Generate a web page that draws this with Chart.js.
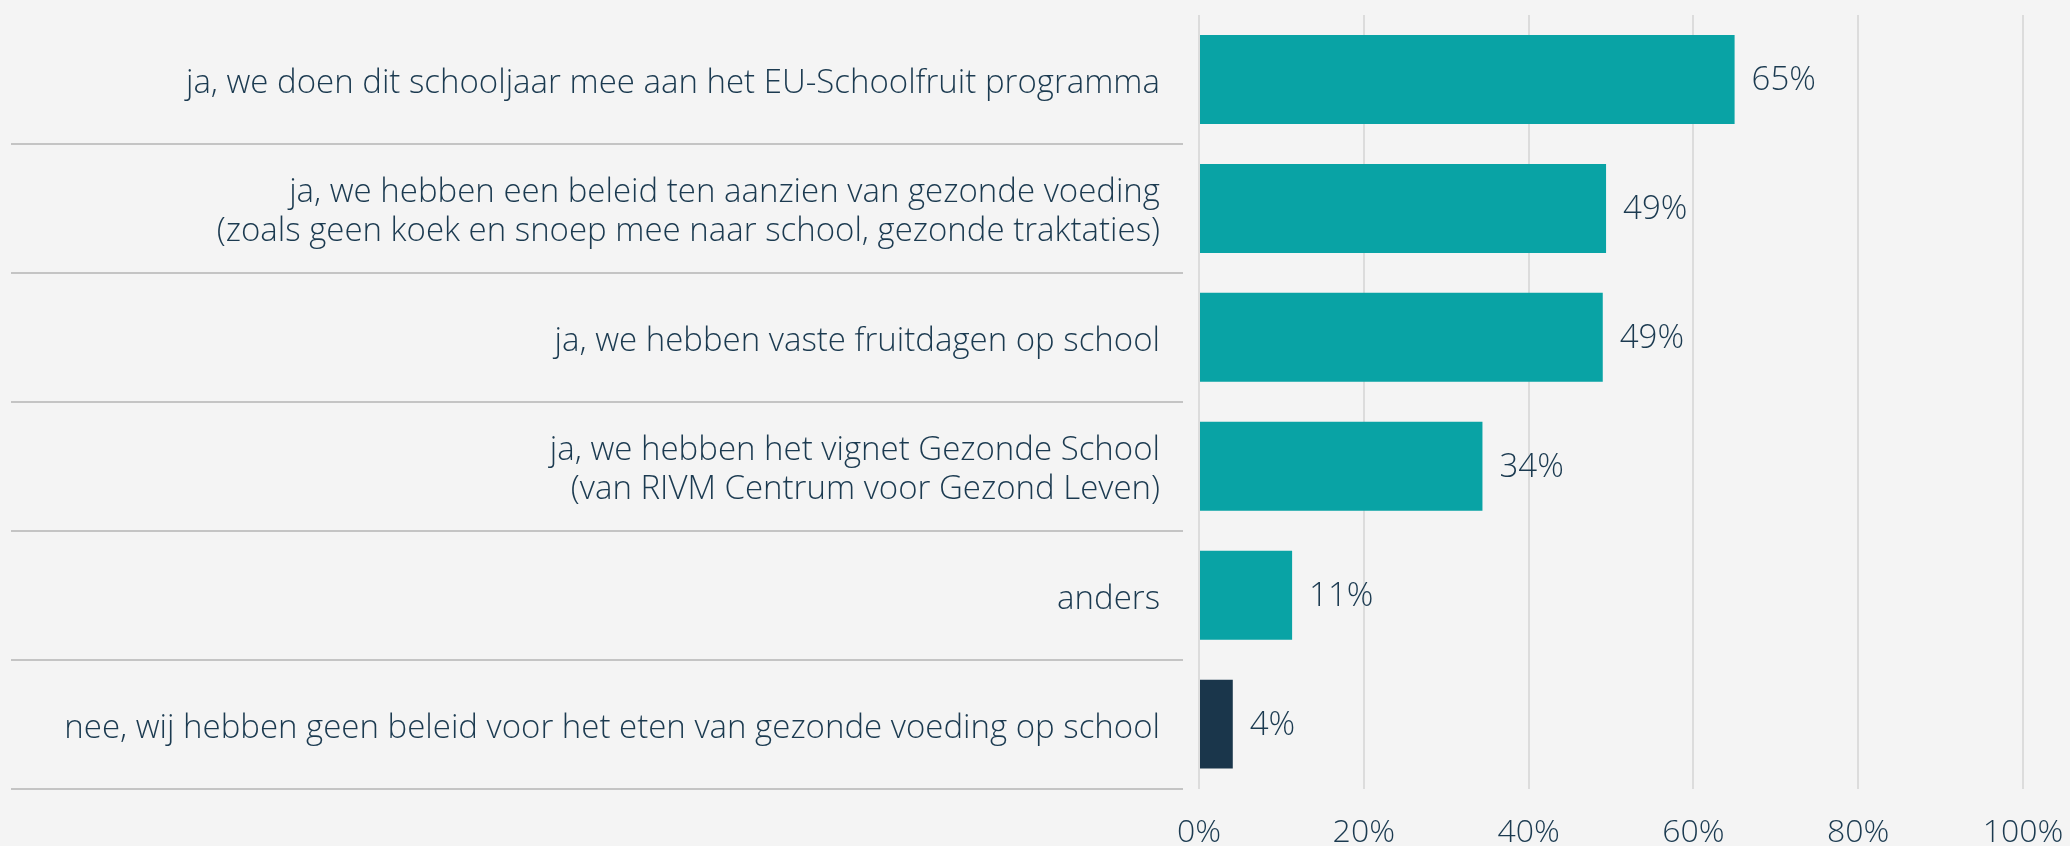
<!DOCTYPE html>
<html>
<head>
<meta charset="utf-8">
<script src="https://cdn.jsdelivr.net/npm/chart.js@4"></script>
<style>
  html, body { margin: 0; padding: 0; background: #f4f4f4; }
  #wrap { width: 2070px; height: 846px; }
</style>
</head>
<body>
<div id="wrap"><canvas id="myBarChart" width="2070" height="846"></canvas></div>
<script>
// categories (multi-line labels as arrays)
const categories = [
  'ja, we doen dit schooljaar mee aan het EU-Schoolfruit programma',
  ['ja, we hebben een beleid ten aanzien van gezonde voeding', '(zoals geen koek en snoep mee naar school, gezonde traktaties)'],
  'ja, we hebben vaste fruitdagen op school',
  ['ja, we hebben het vignet Gezonde School', '(van RIVM Centrum voor Gezond Leven)'],
  'anders',
  'nee, wij hebben geen beleid voor het eten van gezonde voeding op school'
];
// percentages
const values = [65.0, 49.4, 49.0, 34.4, 11.3, 4.1];
const xTicks = [0, 20, 40, 60, 80, 100];

const teal = '#09a3a5';
const navy = '#1a364b';
const textColor = '#1b3a50';
const fontFamily = '"Open Sans", Lato, sans-serif';

// last bar ("nee") is dark, the rest teal
const barColors = values.map((v, i) => i === values.length - 1 ? navy : teal);

// gray separator lines between the categories, only under the labels
const separators = {
  id: 'separators',
  afterDraw(chart) {
    const y = chart.scales.y;
    const x = chart.scales.x;
    const ctx = chart.ctx;
    const step = (y.bottom - y.top) / categories.length;
    ctx.save();
    ctx.strokeStyle = '#c4c4c4';
    ctx.lineWidth = 2;
    for (let i = 1; i <= categories.length; i++) {
      const py = Math.round(y.top + i * step);
      ctx.beginPath();
      ctx.moveTo(11, py);
      ctx.lineTo(x.left - 16, py);
      ctx.stroke();
    }
    ctx.restore();
  }
};

// value labels to the right of each bar
const valueLabels = {
  id: 'valueLabels',
  afterDatasetsDraw(chart) {
    const ctx = chart.ctx;
    const meta = chart.getDatasetMeta(0);
    ctx.save();
    ctx.font = '300 33px ' + fontFamily;
    ctx.fillStyle = textColor;
    ctx.textAlign = 'left';
    ctx.textBaseline = 'middle';
    meta.data.forEach((bar, i) => {
      ctx.fillText(Math.round(values[i]) + '%', bar.x + 17, bar.y + 1);
    });
    ctx.restore();
  }
};

const ctx = document.getElementById('myBarChart').getContext('2d');
new Chart(ctx, {
  type: 'bar',
  data: {
    labels: categories,
    datasets: [{
      data: values,
      backgroundColor: barColors,
      barPercentage: 0.69,
      categoryPercentage: 1
    }]
  },
  options: {
    indexAxis: 'y',
    responsive: false,
    animation: false,
    layout: { padding: { left: 0, right: 47, top: 15, bottom: -31 } },
    plugins: {
      legend: { display: false },
      tooltip: { enabled: false }
    },
    scales: {
      x: {
        min: 0,
        max: 100,
        afterBuildTicks(scale) {
          scale.ticks = xTicks.map(v => ({ value: v }));
        },
        afterFit(scale) {
          // the 100% label may run close to the edge
          scale.paddingRight = 0;
          scale.paddingLeft = 0;
        },
        grid: { color: '#dcdcdc', lineWidth: 2, drawTicks: false },
        border: { display: false },
        ticks: {
          padding: 25,
          color: textColor,
          font: { family: fontFamily, size: 32, weight: 300, lineHeight: 1.2 },
          callback: v => v + '%'
        }
      },
      y: {
        afterFit(scale) {
          scale.width = 1199;
          // no extra room above/below for the labels
          scale.paddingTop = 0;
          scale.paddingBottom = 0;
        },
        grid: { display: false, drawTicks: false },
        border: { display: false },
        ticks: {
          padding: 39,
          labelOffset: 4,
          color: textColor,
          font: { family: fontFamily, size: 33, weight: 300, lineHeight: 1.18 }
        }
      }
    }
  },
  plugins: [separators, valueLabels]
});
</script>
</body>
</html>
